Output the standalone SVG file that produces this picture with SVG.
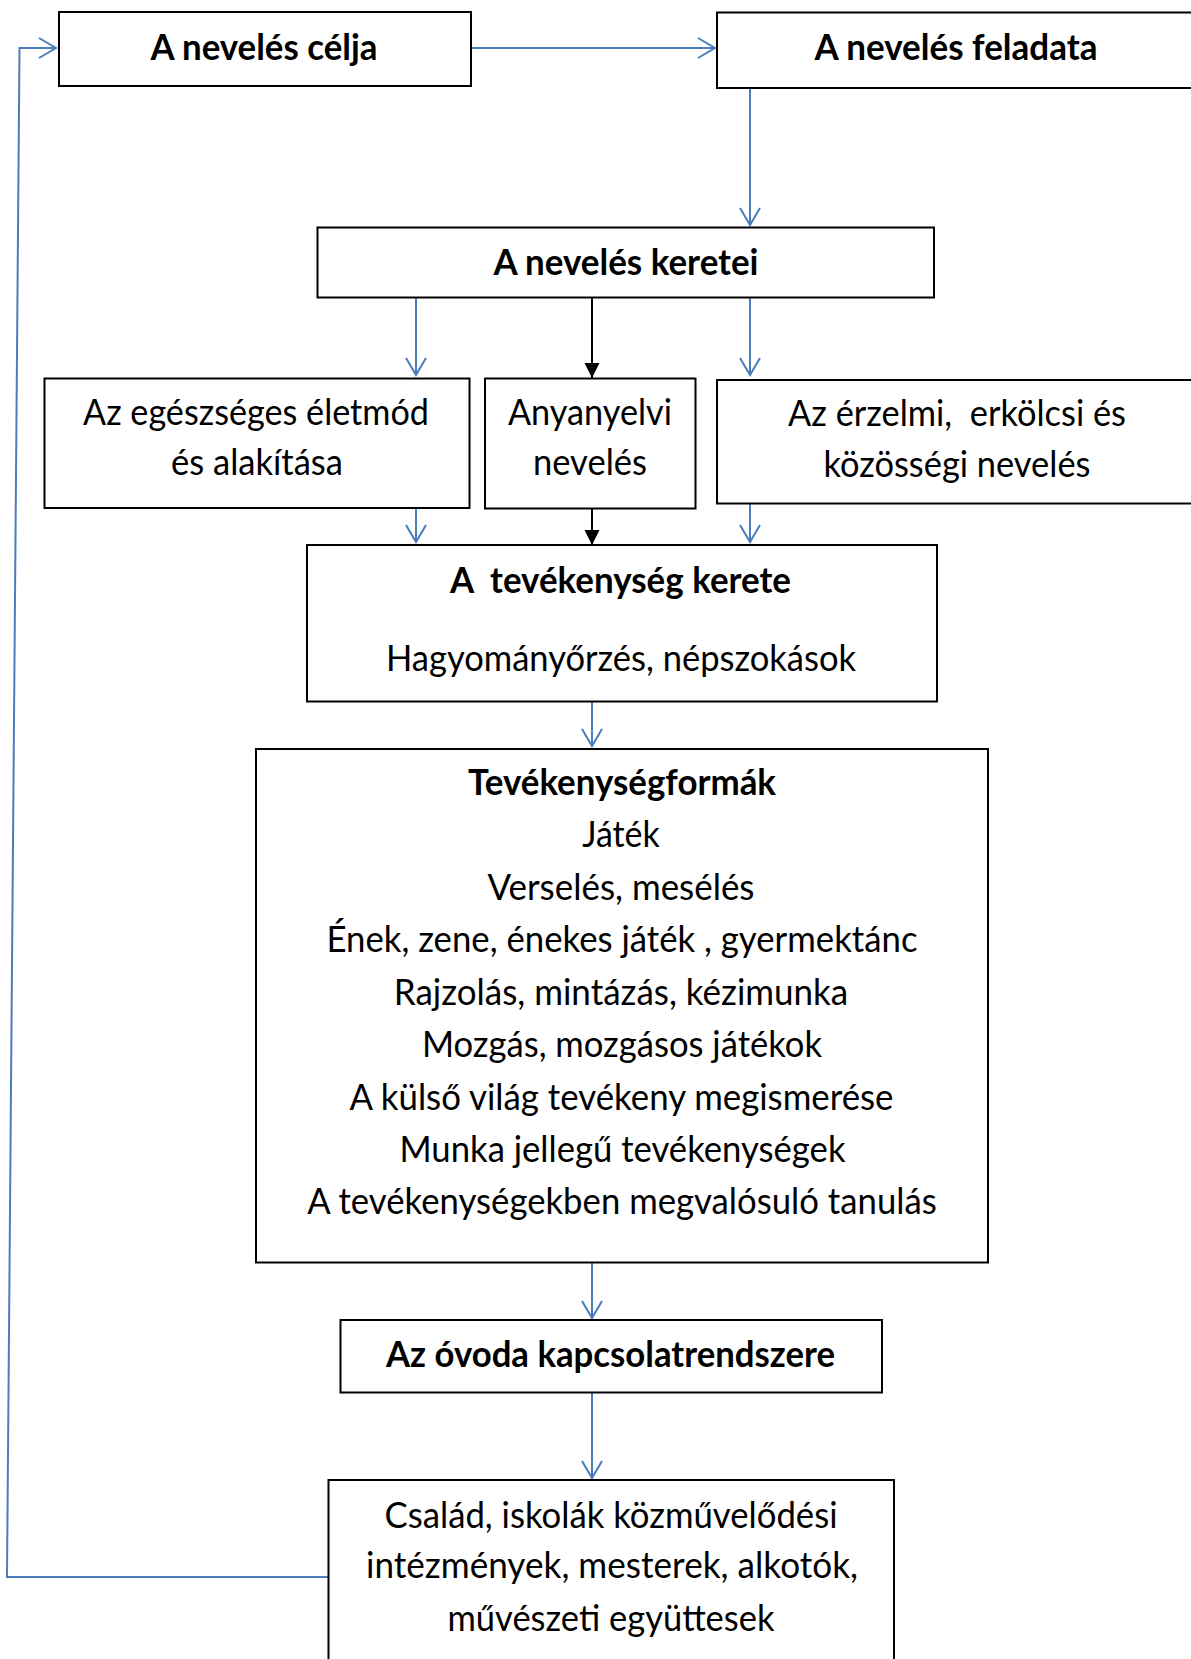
<svg xmlns="http://www.w3.org/2000/svg" width="1191" height="1659" viewBox="0 0 1191 1659">
<style>
.box{fill:#fff;stroke:#000;stroke-width:2}
.t{font-family:Lato,"Open Sans","Liberation Sans",sans-serif;font-size:36px;fill:#000;text-anchor:middle}
.b{font-weight:bold}
.blue{fill:none;stroke:#4A7EBB;stroke-width:2}
.blk{fill:none;stroke:#000;stroke-width:2}
</style>
<defs>
<marker id="ab" markerUnits="userSpaceOnUse" markerWidth="22" markerHeight="24" refX="18" refY="11" orient="auto" viewBox="0 0 22 24">
<path d="M1,1 L18,11 L1,21" fill="none" stroke="#4A7EBB" stroke-width="2"/>
</marker>
<marker id="ak" markerUnits="userSpaceOnUse" markerWidth="16" markerHeight="16" refX="15" refY="7.5" orient="auto" viewBox="0 0 16 16">
<path d="M0,0 L15,7.5 L0,15 z" fill="#000"/>
</marker>
</defs>

<g id="connectors">
<line class="blue" x1="471" y1="48" x2="715" y2="48" marker-end="url(#ab)"/>
<line class="blue" x1="750" y1="88" x2="750" y2="225" marker-end="url(#ab)"/>
<line class="blue" x1="416" y1="298" x2="416" y2="375" marker-end="url(#ab)"/>
<line class="blk" x1="592" y1="298" x2="592" y2="378" marker-end="url(#ak)"/>
<line class="blue" x1="750" y1="298" x2="750" y2="375" marker-end="url(#ab)"/>
<line class="blue" x1="416" y1="508" x2="416" y2="542" marker-end="url(#ab)"/>
<line class="blk" x1="592" y1="509" x2="592" y2="545" marker-end="url(#ak)"/>
<line class="blue" x1="750" y1="504" x2="750" y2="542" marker-end="url(#ab)"/>
<line class="blue" x1="592" y1="702" x2="592" y2="746" marker-end="url(#ab)"/>
<line class="blue" x1="592" y1="1263" x2="592" y2="1318" marker-end="url(#ab)"/>
<line class="blue" x1="592" y1="1393" x2="592" y2="1478" marker-end="url(#ab)"/>
<polyline class="blue" points="329,1577 7,1577 19.5,48 56,48" marker-end="url(#ab)"/>
</g>

<g id="n1">
<rect class="box" x="59" y="12" width="412" height="74"/>
<text class="t b" x="264" y="59.5" textLength="227" lengthAdjust="spacingAndGlyphs">A nevelés célja</text>
</g>
<g id="n2">
<rect class="box" x="717" y="12.5" width="500" height="75.5"/>
<text class="t b" x="956" y="60" textLength="283" lengthAdjust="spacingAndGlyphs">A nevelés feladata</text>
</g>
<g id="n3">
<rect class="box" x="317.5" y="227.5" width="616.5" height="70"/>
<text class="t b" x="626" y="274.5" textLength="265" lengthAdjust="spacingAndGlyphs">A nevelés keretei</text>
</g>
<g id="n4">
<rect class="box" x="44.5" y="378.5" width="425" height="129.5"/>
<text class="t" x="256" y="424.5" textLength="346" lengthAdjust="spacingAndGlyphs">Az egészséges életmód</text>
<text class="t" x="257" y="475" textLength="172" lengthAdjust="spacingAndGlyphs">és alakítása</text>
</g>
<g id="n5">
<rect class="box" x="485" y="378.5" width="210.5" height="130"/>
<text class="t" x="590" y="424.5" textLength="164" lengthAdjust="spacingAndGlyphs">Anyanyelvi</text>
<text class="t" x="590" y="475" textLength="114" lengthAdjust="spacingAndGlyphs">nevelés</text>
</g>
<g id="n6">
<rect class="box" x="717" y="380" width="500" height="123.5"/>
<text class="t" x="957" y="425.5" textLength="338" lengthAdjust="spacingAndGlyphs" xml:space="preserve">Az érzelmi,  erkölcsi és</text>
<text class="t" x="957" y="477" textLength="267" lengthAdjust="spacingAndGlyphs">közösségi nevelés</text>
</g>
<g id="n7">
<rect class="box" x="307" y="545" width="630" height="156.5"/>
<text class="t b" x="620.5" y="593" textLength="341" lengthAdjust="spacingAndGlyphs" xml:space="preserve">A  tevékenység kerete</text>
<text class="t" x="621" y="670.5" textLength="470" lengthAdjust="spacingAndGlyphs">Hagyományőrzés, népszokások</text>
</g>
<g id="n8">
<rect class="box" x="256" y="749" width="732" height="513.5"/>
<text class="t b" x="622" y="794.5" textLength="308" lengthAdjust="spacingAndGlyphs">Tevékenységformák</text>
<text class="t" x="621" y="847" textLength="77.5" lengthAdjust="spacingAndGlyphs">Játék</text>
<text class="t" x="621" y="899.5" textLength="267" lengthAdjust="spacingAndGlyphs">Verselés, mesélés</text>
<text class="t" x="622" y="952" textLength="591" lengthAdjust="spacingAndGlyphs">Ének, zene, énekes játék , gyermektánc</text>
<text class="t" x="621" y="1004.5" textLength="454.5" lengthAdjust="spacingAndGlyphs">Rajzolás, mintázás, kézimunka</text>
<text class="t" x="622" y="1057" textLength="400" lengthAdjust="spacingAndGlyphs">Mozgás, mozgásos játékok</text>
<text class="t" x="621.5" y="1109.5" textLength="544" lengthAdjust="spacingAndGlyphs">A külső világ tevékeny megismerése</text>
<text class="t" x="622.5" y="1162" textLength="446" lengthAdjust="spacingAndGlyphs">Munka jellegű tevékenységek</text>
<text class="t" x="622" y="1214" textLength="629.5" lengthAdjust="spacingAndGlyphs">A tevékenységekben megvalósuló tanulás</text>
</g>
<g id="n9">
<rect class="box" x="340.5" y="1320" width="541.5" height="72.5"/>
<text class="t b" x="610.5" y="1366.5" textLength="449" lengthAdjust="spacingAndGlyphs">Az óvoda kapcsolatrendszere</text>
</g>
<g id="n10">
<rect class="box" x="328.5" y="1480" width="565.5" height="220"/>
<text class="t" x="611" y="1528" textLength="453" lengthAdjust="spacingAndGlyphs">Család, iskolák közművelődési</text>
<text class="t" x="612" y="1578" textLength="492" lengthAdjust="spacingAndGlyphs">intézmények, mesterek, alkotók,</text>
<text class="t" x="611" y="1630.5" textLength="327" lengthAdjust="spacingAndGlyphs">művészeti együttesek</text>
</g>
</svg>
